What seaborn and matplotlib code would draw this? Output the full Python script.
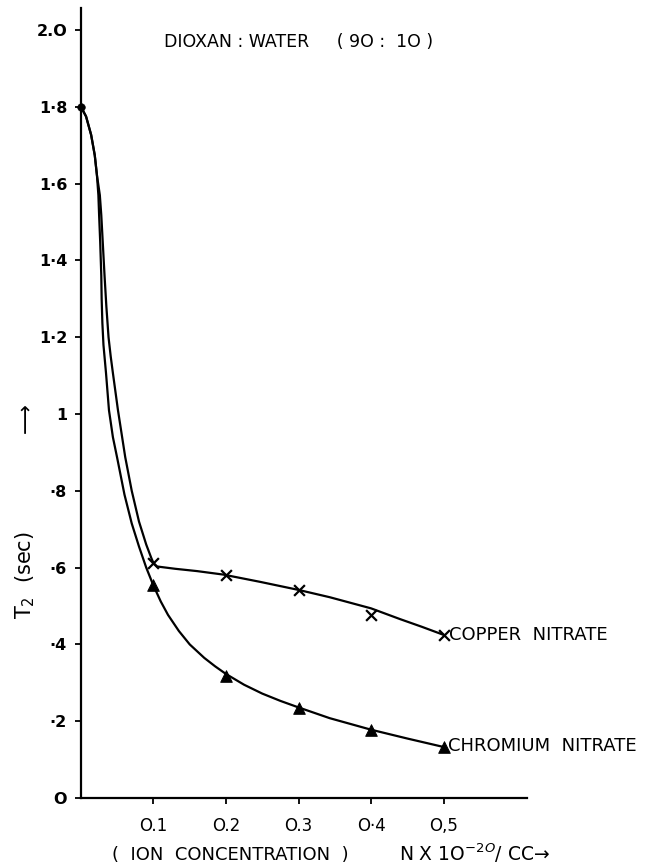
import matplotlib
matplotlib.use("Agg")
import matplotlib.pyplot as plt
import seaborn as sns
import pandas as pd

# measured points (ion concentration, T2 in sec)
conc = [0.1, 0.2, 0.3, 0.4, 0.5]
copper_t2 = [0.612, 0.58, 0.543, 0.477, 0.425]
chromium_t2 = [0.555, 0.318, 0.234, 0.177, 0.133]
start_x = [0.0]
start_t2 = [1.80]

# hand-traced drawn curves
copper_curve_x = [0.0, 0.007, 0.014, 0.019, 0.022, 0.026, 0.028, 0.030, 0.0325, 0.035,
                  0.038, 0.041, 0.044, 0.051, 0.061, 0.070, 0.080, 0.090, 0.097, 0.100,
                  0.105, 0.13, 0.16, 0.196, 0.247, 0.3, 0.343, 0.4, 0.44, 0.47, 0.5]
copper_curve_y = [1.80, 1.775, 1.727, 1.674, 1.622, 1.570, 1.518, 1.448, 1.36, 1.28,
                  1.20, 1.15, 1.107, 1.010, 0.888, 0.80, 0.72, 0.66, 0.625, 0.612,
                  0.603, 0.597, 0.591, 0.582, 0.563, 0.542, 0.523, 0.494, 0.466, 0.446, 0.425]
chromium_curve_x = [0.0, 0.007, 0.014, 0.019, 0.022, 0.024, 0.025, 0.0265, 0.028, 0.0285,
                    0.0295, 0.031, 0.0345, 0.0386, 0.044, 0.050, 0.060, 0.070, 0.080, 0.090,
                    0.100, 0.110, 0.120, 0.135, 0.150, 0.170, 0.185, 0.2, 0.225, 0.25, 0.275,
                    0.3, 0.343, 0.4, 0.45, 0.5]
chromium_curve_y = [1.80, 1.775, 1.727, 1.674, 1.622, 1.570, 1.518, 1.448, 1.36, 1.30,
                    1.237, 1.18, 1.107, 1.010, 0.94, 0.885, 0.79, 0.715, 0.655, 0.60,
                    0.553, 0.512, 0.477, 0.435, 0.40, 0.365, 0.343, 0.323, 0.295, 0.272, 0.253,
                    0.236, 0.208, 0.178, 0.155, 0.133]

y_ticks = [0, 0.2, 0.4, 0.6, 0.8, 1.0, 1.2, 1.4, 1.6, 1.8, 2.0]
y_tick_labels = ["O", "·2", "·4", "·6", "·8", "1", "1·2", "1·4", "1·6", "1·8", "2.O"]
x_ticks = [0.1, 0.2, 0.3, 0.4, 0.5]
x_tick_labels = ["O.1", "O.2", "O.3", "O·4", "O,5"]

sns.set_style("ticks")
plt.rcParams["font.family"] = ["DejaVu Sans"]
plt.rcParams["text.color"] = "black"

fig = plt.figure(figsize=(6.51, 8.68), dpi=100)
ax = fig.add_axes([0.1244, 0.0806, 0.685, 0.910])

cu = pd.DataFrame({"x": copper_curve_x, "y": copper_curve_y})
cr = pd.DataFrame({"x": chromium_curve_x, "y": chromium_curve_y})
sns.lineplot(data=cu, x="x", y="y", sort=False, color="black", lw=1.6, ax=ax)
sns.lineplot(data=cr, x="x", y="y", sort=False, color="black", lw=1.6, ax=ax)

sns.scatterplot(x=conc, y=copper_t2, marker="x", s=60, color="black", linewidth=1.6, ax=ax)
sns.scatterplot(x=conc, y=chromium_t2, marker="^", s=70, color="black", edgecolor="black", ax=ax)
sns.scatterplot(x=start_x, y=start_t2, marker="o", s=30, color="black", edgecolor="black", ax=ax, clip_on=False)

ax.set_xlim(0, 0.615)
ax.set_ylim(0, 2.057)
ax.set_yticks(y_ticks)
ax.set_yticklabels(y_tick_labels, fontsize=11.5, fontweight="bold", color="black")
ax.set_xticks(x_ticks)
ax.set_xticklabels(x_tick_labels, fontsize=12, color="black")
ax.tick_params(axis="both", direction="out", length=4, width=1.3, colors="black")
ax.tick_params(axis="x", pad=10)
ax.tick_params(axis="y", pad=6)
ax.set_xlabel("")
ax.set_ylabel("")
for s in ["top", "right"]:
    ax.spines[s].set_visible(False)
for s in ["left", "bottom"]:
    ax.spines[s].set_linewidth(1.6)
    ax.spines[s].set_color("black")

ax.text(0.115, 1.97, "DIOXAN : WATER     ( 9O :  1O )", fontsize=12.5, ha="left", va="center")
ax.text(0.508, 0.425, "COPPER  NITRATE", fontsize=13, ha="left", va="center")
ax.text(0.506, 0.135, "CHROMIUM  NITRATE", fontsize=13, ha="left", va="center")

fig.text(0.172, 0.0145, "(  ION  CONCENTRATION  )", fontsize=13, ha="left", va="center")
fig.text(0.613, 0.0165, "N X 1O$^{-2O}$/ CC→", fontsize=13.5, ha="left", va="center")
fig.text(0.038, 0.338, "T$_2$  (sec)", fontsize=15, rotation=90, ha="center", va="center")
fig.text(0.040, 0.518, "⟶", fontsize=15, rotation=90, ha="center", va="center")

fig.savefig("out.png", dpi=100)
